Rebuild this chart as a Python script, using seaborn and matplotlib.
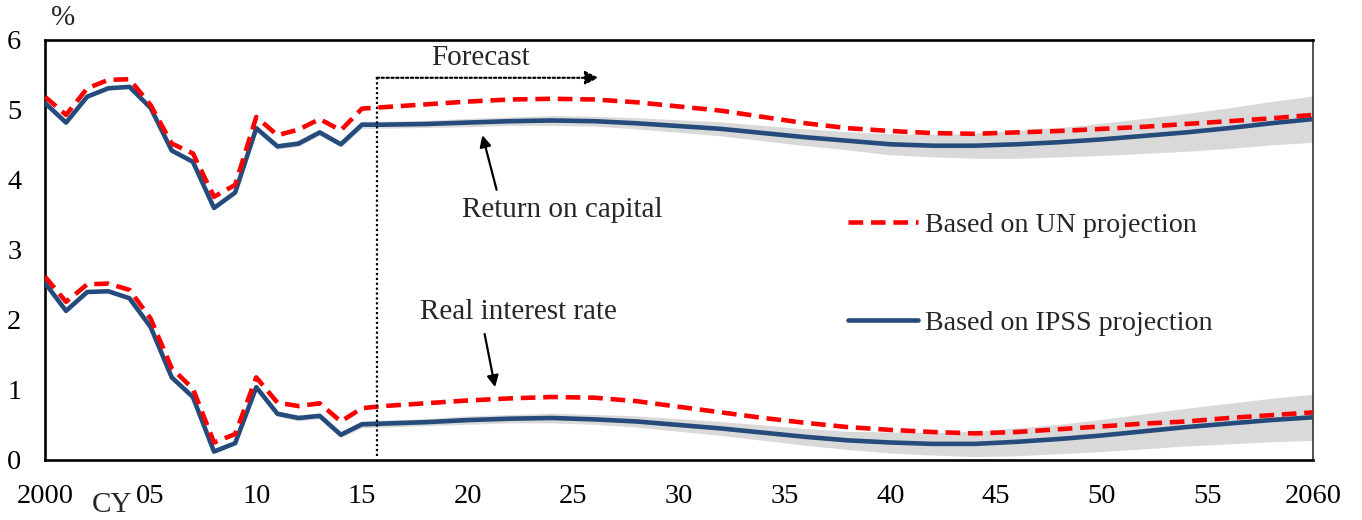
import matplotlib
matplotlib.use("Agg")
import matplotlib.pyplot as plt
import seaborn as sns
import pandas as pd

# years: annual history, then every 2 years in the forecast
years = list(range(2000, 2017)) + list(range(2018, 2061, 2))

# return on capital
roc_ipss = [5.10, 4.82, 5.19, 5.31, 5.33, 5.03, 4.42, 4.26, 3.60, 3.82, 4.74, 4.48, 4.52, 4.68, 4.51, 4.79, 4.79,
            4.80, 4.82, 4.84, 4.85, 4.84, 4.81, 4.77, 4.73, 4.67, 4.61, 4.56, 4.51, 4.49, 4.49, 4.51, 4.54,
            4.58, 4.63, 4.68, 4.74, 4.81, 4.87]
roc_un = [5.19, 4.93, 5.31, 5.43, 5.44, 5.07, 4.52, 4.38, 3.76, 3.93, 4.90, 4.64, 4.72, 4.87, 4.71, 5.02, 5.04,
          5.08, 5.12, 5.15, 5.16, 5.15, 5.11, 5.05, 4.99, 4.90, 4.81, 4.74, 4.70, 4.67, 4.66, 4.68, 4.70,
          4.73, 4.76, 4.80, 4.84, 4.88, 4.93]

# real interest rate
rir_ipss = [2.53, 2.13, 2.40, 2.41, 2.31, 1.90, 1.18, 0.90, 0.12, 0.24, 1.04, 0.66, 0.60, 0.63, 0.36, 0.51, 0.52,
            0.54, 0.57, 0.59, 0.60, 0.58, 0.55, 0.50, 0.45, 0.39, 0.33, 0.28, 0.25, 0.23, 0.23, 0.26, 0.30,
            0.35, 0.41, 0.47, 0.52, 0.57, 0.61]
rir_un = [2.62, 2.26, 2.51, 2.52, 2.43, 2.02, 1.31, 1.02, 0.25, 0.37, 1.18, 0.82, 0.77, 0.81, 0.55, 0.74, 0.77,
          0.81, 0.85, 0.88, 0.90, 0.89, 0.84, 0.76, 0.68, 0.60, 0.53, 0.47, 0.43, 0.40, 0.38, 0.40, 0.44,
          0.48, 0.52, 0.55, 0.60, 0.64, 0.68]

# half width of the grey range around the IPSS line
band_hw = [0, 0, 0, 0, 0, 0, 0, 0, 0, 0, 0.02, 0.04, 0.04, 0.04, 0.04, 0.05, 0.05,
           0.05, 0.06, 0.06, 0.07, 0.07, 0.08, 0.09, 0.10, 0.11, 0.12, 0.13, 0.15, 0.16, 0.18, 0.20, 0.21,
           0.23, 0.25, 0.27, 0.29, 0.31, 0.33]

forecast_start = 2015.7

df = pd.DataFrame({"year": years, "roc_ipss": roc_ipss, "roc_un": roc_un,
                   "rir_ipss": rir_ipss, "rir_un": rir_un, "hw": band_hw})

sns.set_style("white")
plt.rcParams["font.family"] = ["Liberation Serif", "DejaVu Serif"]

fig = plt.figure(figsize=(13.62, 5.2), dpi=100)
ax = fig.add_axes([0.033, 0.1154, 0.931, 0.8077])

BLUE = "#244b7c"
RED = "#ff0000"
GREY = "#d9d9d9"
FS = 21

for col in ["roc_ipss", "rir_ipss"]:
    ax.fill_between(df["year"], df[col] - df["hw"], df[col] + df["hw"], color=GREY, lw=0, zorder=1)

sns.lineplot(data=df, x="year", y="roc_ipss", ax=ax, color=BLUE, lw=3.3, zorder=3,
             label="Based on IPSS projection")
sns.lineplot(data=df, x="year", y="rir_ipss", ax=ax, color=BLUE, lw=3.3, zorder=3)
sns.lineplot(data=df, x="year", y="roc_un", ax=ax, color=RED, lw=3.3, zorder=4,
             linestyle=(0, (3.2, 1.7)), label="Based on UN projection")
sns.lineplot(data=df, x="year", y="rir_un", ax=ax, color=RED, lw=3.3, zorder=4,
             linestyle=(0, (3.2, 1.7)))

ax.set_xlim(2000, 2060)
ax.set_ylim(0, 6)
ax.set_xticks(range(2000, 2061, 5))
ax.set_xticklabels(["2000", "05", "10", "15", "20", "25", "30", "35", "40", "45", "50", "55", "2060"])
ax.set_yticks(range(0, 7))
ax.set_xlabel("")
ax.set_ylabel("")
ax.tick_params(axis="both", direction="in", length=7, width=1.8, labelsize=20.5, colors="black")
ax.tick_params(axis="x", pad=17)
ax.tick_params(axis="y", pad=17)
for s in ["left", "bottom", "top"]:
    ax.spines[s].set_linewidth(1.9)
    ax.spines[s].set_color("black")
ax.spines["right"].set_linewidth(1.2)
ax.spines["right"].set_color("#333333")

# forecast marker
ax.plot([forecast_start, forecast_start], [0.05, 5.46], color="black", lw=1.6, ls=(0, (1, 1.2)), zorder=5)
ax.annotate("", xy=(2026.2, 5.46), xytext=(forecast_start, 5.46),
            arrowprops=dict(arrowstyle="-|>", color="black", lw=1.6, ls=(0, (1, 1.2)),
                            mutation_scale=20, shrinkA=0, shrinkB=0))
ax.text(2020.6, 5.74, "Forecast", ha="center", va="center", fontsize=FS)

ax.annotate("Return on capital", xy=(2020.7, 4.64), xytext=(2024.5, 3.57),
            ha="center", va="center", fontsize=FS,
            arrowprops=dict(arrowstyle="-|>", color="black", lw=1.6, mutation_scale=17,
                            shrinkA=3, shrinkB=0, relpos=(0.18, 1.0)))
ax.annotate("Real interest rate", xy=(2021.3, 1.04), xytext=(2022.4, 2.11),
            ha="center", va="center", fontsize=FS,
            arrowprops=dict(arrowstyle="-|>", color="black", lw=1.6, mutation_scale=17,
                            shrinkA=4, shrinkB=0, relpos=(0.32, 0.0)))

handles, labels = ax.get_legend_handles_labels()
order = [labels.index("Based on UN projection"), labels.index("Based on IPSS projection")]
ax.legend([handles[i] for i in order], [labels[i] for i in order],
          loc="upper left", bbox_to_anchor=(0.633, 0.59), frameon=False, fontsize=20.2,
          handlelength=2.5, handletextpad=0.25, labelspacing=2.57, borderpad=0, borderaxespad=0)

fig.text(63 / 1362, 1 - 18 / 520, "%", ha="center", va="center", fontsize=FS)
fig.text(112 / 1362, 1 - 505 / 520, "CY", ha="center", va="center", fontsize=FS)

fig.savefig("out.png", dpi=100)
plt.close(fig)
